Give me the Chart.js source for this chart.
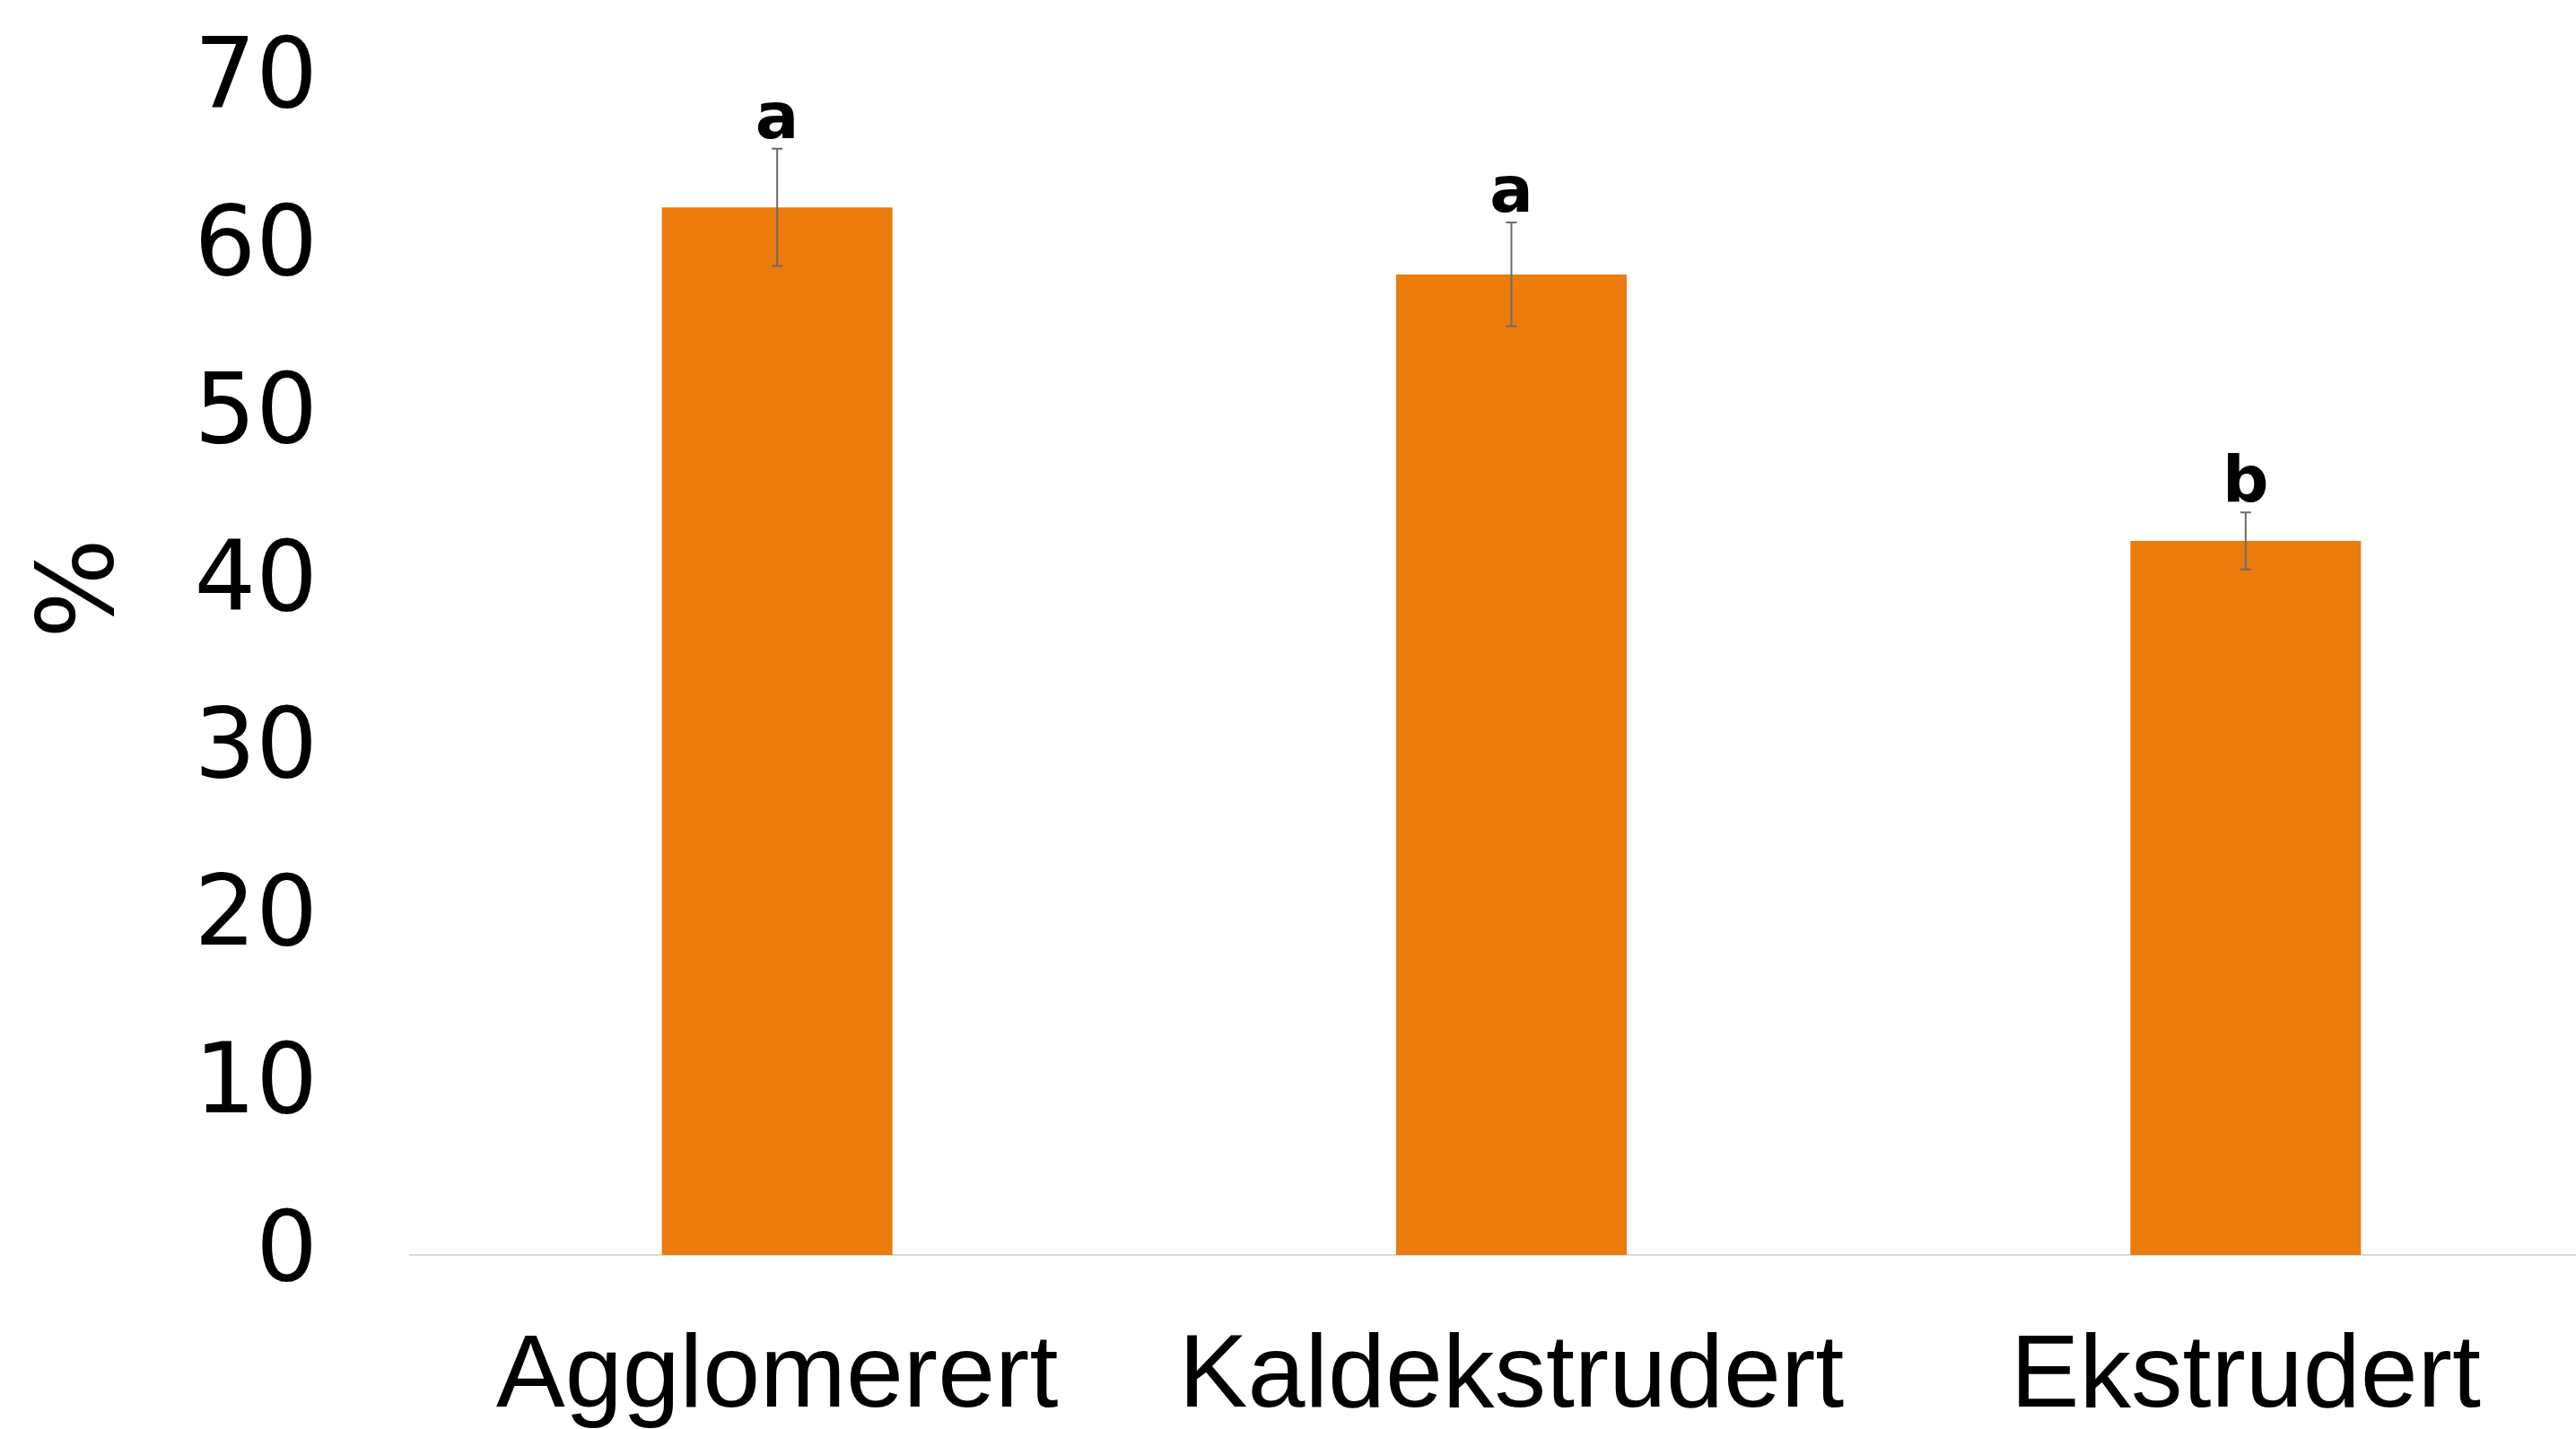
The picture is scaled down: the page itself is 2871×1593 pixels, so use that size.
<!DOCTYPE html>
<html>
<head>
<meta charset="utf-8">
<script src="https://cdn.jsdelivr.net/npm/chart.js"></script>
<style>
  html, body { margin: 0; padding: 0; background: #fff; overflow: hidden; }
  #wrap { width: 2912px; height: 1593px; position: relative; }
</style>
</head>
<body>
<div id="wrap"><canvas id="chart"></canvas></div>
<script>
const labels = ['Agglomerert', 'Kaldekstrudert', 'Ekstrudert'];
const values = [62.5, 58.5, 42.6];
const errors = [3.5, 3.1, 1.7];
const letters = ['a', 'a', 'b'];
const yTicks = [0, 10, 20, 30, 40, 50, 60, 70];

// feilstolper og bokstaver over søylene
const errorBars = {
  id: 'errorBars',
  afterDatasetsDraw(chart) {
    const c = chart.ctx;
    const y = chart.scales.y;
    const meta = chart.getDatasetMeta(0);
    c.save();
    meta.data.forEach((bar, i) => {
      const top = y.getPixelForValue(values[i] + errors[i]);
      const bot = y.getPixelForValue(values[i] - errors[i]);
      c.strokeStyle = '#6b6b6b';
      c.lineWidth = 2;
      c.beginPath();
      c.moveTo(bar.x, top); c.lineTo(bar.x, bot);
      c.moveTo(bar.x - 6, top); c.lineTo(bar.x + 6, top);
      c.moveTo(bar.x - 6, bot); c.lineTo(bar.x + 6, bot);
      c.stroke();
      c.fillStyle = '#000';
      c.font = 'bold 72px "DejaVu Sans"';
      c.textAlign = 'center';
      c.textBaseline = 'alphabetic';
      c.fillText(letters[i], bar.x, top - 12);
    });
    c.restore();
  }
};

// y-aksetittel "%"
const yTitle = {
  id: 'yTitle',
  afterDraw(chart) {
    const c = chart.ctx;
    c.save();
    c.translate(94, 656);
    c.rotate(-Math.PI / 2);
    c.fillStyle = '#000';
    c.font = '118px "DejaVu Sans"';
    c.textAlign = 'center';
    c.textBaseline = 'middle';
    c.fillText('%', 0, 0);
    c.restore();
  }
};

const ctx = document.getElementById('chart');

new Chart(ctx, {
  type: 'bar',
  data: {
    labels: labels,
    datasets: [{
      data: values,
      backgroundColor: 'rgb(235, 123, 11)',
      barPercentage: 0.314,
      categoryPercentage: 1
    }]
  },
  options: {
    responsive: true,
    maintainAspectRatio: false,
    animation: false,
    layout: { padding: { top: 91, left: 0, right: 0, bottom: 0 } },
    plugins: { legend: { display: false }, tooltip: { enabled: false } },
    scales: {
      x: {
        grid: { display: false, drawTicks: false },
        border: { display: true, color: '#d9d9d9', width: 2 },
        ticks: {
          color: '#000',
          padding: 68,
          maxRotation: 0,
          font: { family: '"Liberation Sans"', size: 115 }
        },
        afterFit(s) { s.height = 194; }
      },
      y: {
        min: 0,
        max: 70,
        afterBuildTicks(s) { s.ticks = yTicks.map(v => ({ value: v })); },
        grid: { display: false, drawTicks: false },
        border: { display: false },
        ticks: {
          color: '#000',
          padding: 103,
          font: { family: '"DejaVu Sans"', size: 108 }
        },
        afterFit(s) {
          s.width = 457;
          s.paddingTop = 0;
          s.paddingBottom = 0;
        }
      }
    }
  },
  plugins: [errorBars, yTitle]
});
</script>
</body>
</html>
